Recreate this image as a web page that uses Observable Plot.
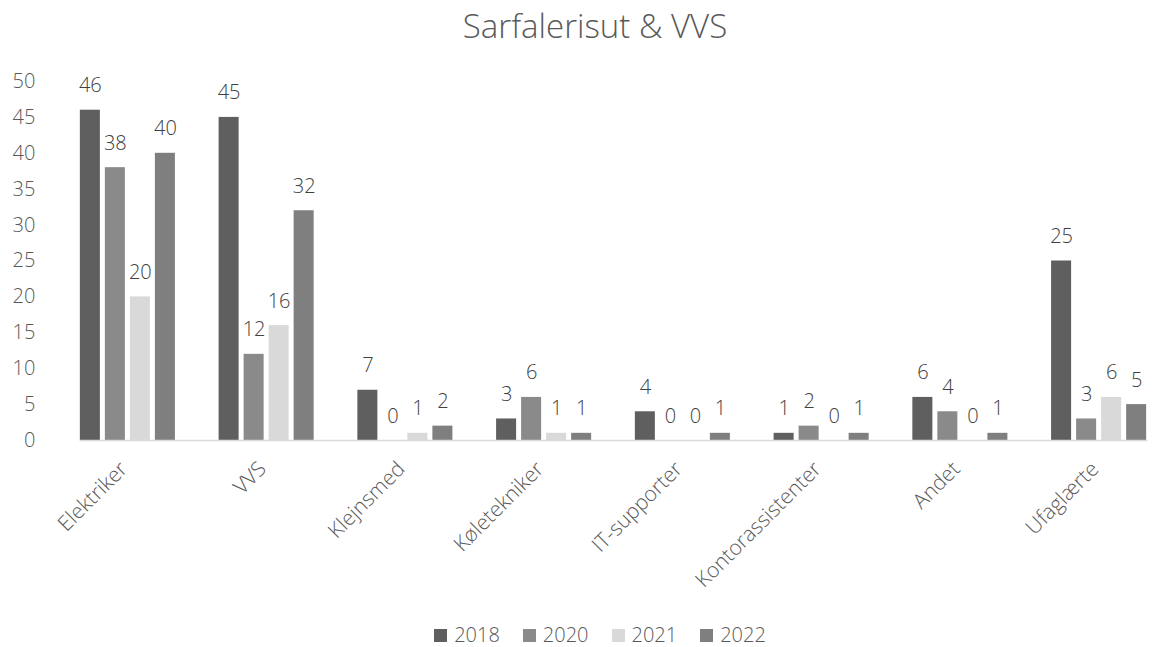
<!DOCTYPE html>
<html>
<head>
<meta charset="utf-8">
<script src="https://cdn.jsdelivr.net/npm/d3@7"></script>
<script src="https://cdn.jsdelivr.net/npm/@observablehq/plot@0.6"></script>
<style>
  html, body { margin: 0; padding: 0; background: #fff; overflow: hidden; }
  #wrap { width: 1190px; font-family: "Open Sans", sans-serif; font-weight: 300; color: #595959; }
  #title { height: 52px; line-height: 52px; font-size: 33px; text-align: center; }
  #legend { margin-top: 20px; padding-left: 10px; height: 30px; line-height: 30px; font-size: 20px; display: flex; justify-content: center; gap: 23px; }
  .item { display: flex; align-items: center; }
  .sw { width: 13px; height: 13px; margin-right: 7px; }
</style>
</head>
<body>
<div id="wrap">
  <div id="title">Sarfalerisut &amp; VVS</div>
  <div id="chart"></div>
  <div id="legend"></div>
</div>
<script>
const categories = ["Elektriker", "VVS", "Klejnsmed", "Køletekniker", "IT-supporter", "Kontorassistenter", "Andet", "Ufaglærte"];
const years = ["2018", "2020", "2021", "2022"];
const v2018 = [46, 45, 7, 3, 4, 1, 6, 25];
const v2020 = [38, 12, 0, 6, 0, 2, 4, 3];
const v2021 = [20, 16, 1, 1, 0, 0, 0, 6];
const v2022 = [40, 32, 2, 1, 1, 1, 1, 5];
const yTicks = [0, 5, 10, 15, 20, 25, 30, 35, 40, 45, 50];
const colors = ["#5f5f5f", "#8a8a8a", "#d9d9d9", "#7f7f7f"];

const series = [v2018, v2020, v2021, v2022];
const data = categories.flatMap((c, i) => years.map((y, j) => ({category: c, year: y, value: series[j][i]})));

const chart = Plot.plot({
  width: 1190,
  height: 548,
  marginLeft: 58,
  marginRight: 22,
  marginTop: 29,
  marginBottom: 160,
  style: {fontFamily: "'Open Sans', sans-serif", fontWeight: 300, fontSize: "20px", color: "#595959", background: "#fff"},
  fx: {domain: categories, paddingInner: 0.315, paddingOuter: 0.1575, round: false, label: null},
  x: {domain: years, paddingInner: 0.2, paddingOuter: 0, round: false, axis: null},
  y: {domain: [0, 50], label: null},
  color: {domain: years, range: colors},
  marks: [
    Plot.axisY({ticks: yTicks, tickSize: 0, tickPadding: 45, fontSize: 20, label: null}),
    Plot.axisFx({anchor: "bottom", tickRotate: -45, tickSize: 0, tickPadding: 12, fontSize: 21, dx: -4, dy: 13, label: null}),
    Plot.barY(data, {fx: "category", x: "year", y: "value", fill: "year"}),
    Plot.frame({anchor: "bottom", stroke: "#d9d9d9", strokeWidth: 1.5, facet: "super"}),
    Plot.text(data, {fx: "category", x: "year", y: "value", text: d => String(d.value), dy: -18, lineAnchor: "bottom", fill: "#404040"})
  ]
});
document.getElementById("chart").appendChild(chart);

const legend = document.getElementById("legend");
years.forEach((y, j) => {
  const it = document.createElement("div");
  it.className = "item";
  const sw = document.createElement("div");
  sw.className = "sw";
  sw.style.background = colors[j];
  const t = document.createElement("span");
  t.textContent = y;
  it.appendChild(sw); it.appendChild(t);
  legend.appendChild(it);
});
</script>
</body>
</html>
